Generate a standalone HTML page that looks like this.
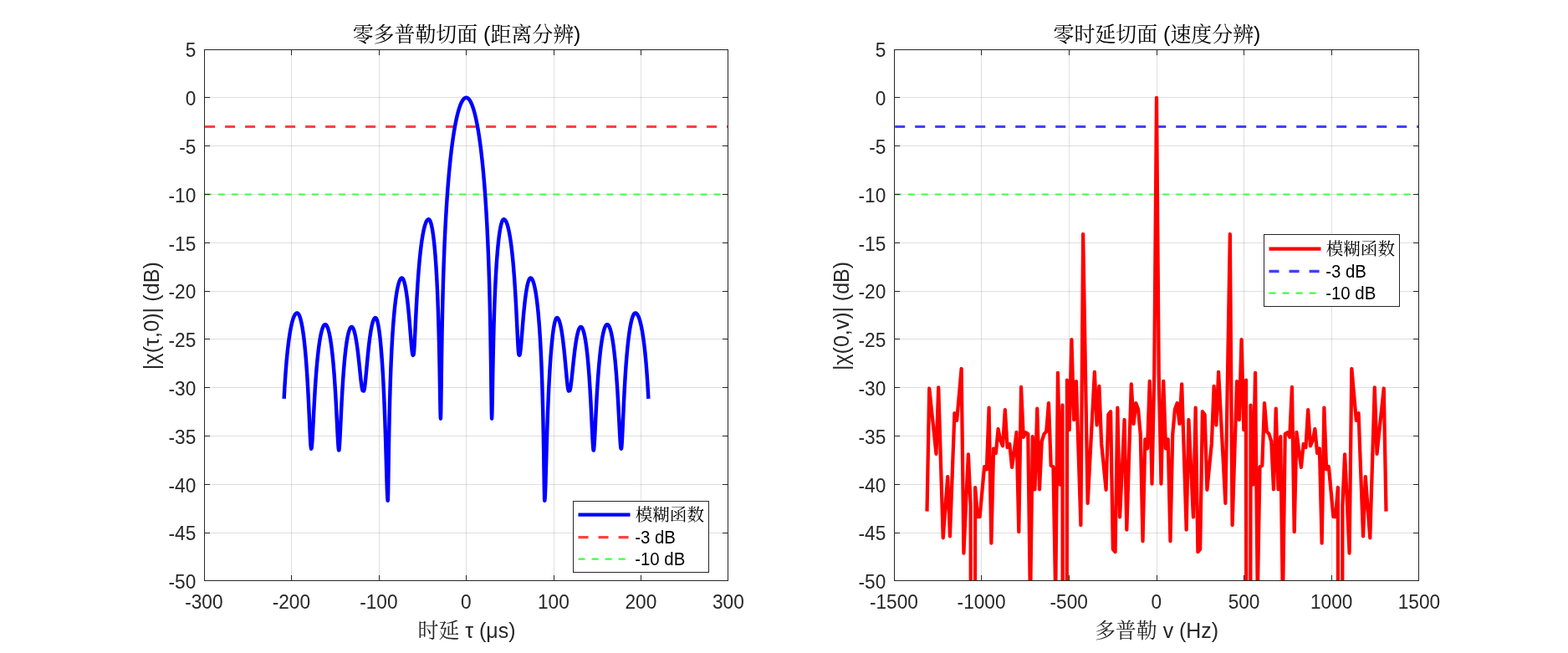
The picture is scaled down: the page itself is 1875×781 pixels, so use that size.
<!DOCTYPE html>
<html><head><meta charset="utf-8"><title>ambiguity function cuts</title>
<style>
html,body{margin:0;padding:0;background:#fff;}
body{width:1875px;height:781px;overflow:hidden;font-family:"Liberation Sans",sans-serif;}
svg{display:block;will-change:transform;font-family:"Liberation Sans",sans-serif;}
</style></head><body>
<svg width="1875" height="781" viewBox="0 0 1875 781">
<rect width="1875" height="781" fill="#fff"/>
<defs><clipPath id="cL"><rect x="244.0" y="59.0" width="627.0" height="636.0"/></clipPath><clipPath id="cR"><rect x="1069.0" y="59.0" width="628.0" height="636.0"/></clipPath></defs>
<path d="M348.5 59.5V694.5" stroke="#262626" stroke-opacity="0.15" stroke-width="1"/><path d="M453.5 59.5V694.5" stroke="#262626" stroke-opacity="0.15" stroke-width="1"/><path d="M557.5 59.5V694.5" stroke="#262626" stroke-opacity="0.15" stroke-width="1"/><path d="M662.5 59.5V694.5" stroke="#262626" stroke-opacity="0.15" stroke-width="1"/><path d="M766.5 59.5V694.5" stroke="#262626" stroke-opacity="0.15" stroke-width="1"/><path d="M244.5 116.5H870.5" stroke="#262626" stroke-opacity="0.15" stroke-width="1"/><path d="M244.5 174.5H870.5" stroke="#262626" stroke-opacity="0.15" stroke-width="1"/><path d="M244.5 232.5H870.5" stroke="#262626" stroke-opacity="0.15" stroke-width="1"/><path d="M244.5 290.5H870.5" stroke="#262626" stroke-opacity="0.15" stroke-width="1"/><path d="M244.5 348.5H870.5" stroke="#262626" stroke-opacity="0.15" stroke-width="1"/><path d="M244.5 405.5H870.5" stroke="#262626" stroke-opacity="0.15" stroke-width="1"/><path d="M244.5 463.5H870.5" stroke="#262626" stroke-opacity="0.15" stroke-width="1"/><path d="M244.5 521.5H870.5" stroke="#262626" stroke-opacity="0.15" stroke-width="1"/><path d="M244.5 579.5H870.5" stroke="#262626" stroke-opacity="0.15" stroke-width="1"/><path d="M244.5 637.5H870.5" stroke="#262626" stroke-opacity="0.15" stroke-width="1"/>
<g clip-path="url(#cL)" fill="none">
<path d="M245.1 151.5H871.0" stroke="#ff4040" stroke-width="3" stroke-dasharray="12 12"/>
<path d="M244.85 232.5H871.0" stroke="#40ff40" stroke-width="1.9" stroke-dasharray="7.9 8.12"/>
<path d="M339.65 476.78L339.90 471.99L340.15 467.44L340.40 463.11L340.65 459.00L340.90 455.08L341.15 451.33L341.40 447.76L341.65 444.34L341.90 441.06L342.15 437.93L342.40 434.92L342.65 432.03L342.90 429.26L343.15 426.60L343.40 424.04L343.65 421.58L343.90 419.22L344.15 416.95L344.40 414.76L344.65 412.65L344.90 410.63L345.15 408.68L345.40 406.80L345.65 404.99L345.90 403.26L346.15 401.58L346.40 399.98L346.65 398.43L346.90 396.94L347.15 395.52L347.40 394.14L347.65 392.83L347.90 391.57L348.15 390.36L348.40 389.20L348.65 388.09L348.90 387.03L349.15 386.02L349.40 385.05L349.65 384.14L349.90 383.26L350.15 382.43L350.40 381.65L350.65 380.91L350.90 380.21L351.15 379.55L351.40 378.94L351.65 378.36L351.90 377.83L352.15 377.33L352.40 376.88L352.65 376.46L352.90 376.08L353.15 375.75L353.40 375.45L353.65 375.18L353.90 374.96L354.15 374.77L354.40 374.63L354.65 374.51L354.90 374.44L355.15 374.40L355.40 374.41L355.65 374.46L355.90 374.57L356.15 374.73L356.40 374.94L356.65 375.21L356.90 375.52L357.15 375.89L357.40 376.32L357.65 376.80L357.90 377.33L358.15 377.92L358.40 378.56L358.65 379.26L358.90 380.02L359.15 380.83L359.40 381.70L359.65 382.63L359.90 383.62L360.15 384.68L360.40 385.79L360.65 386.97L360.90 388.22L361.15 389.53L361.40 390.91L361.65 392.36L361.90 393.88L362.15 395.48L362.40 397.15L362.65 398.90L362.90 400.72L363.15 402.64L363.40 404.63L363.65 406.72L363.90 408.90L364.15 411.17L364.40 413.54L364.65 416.02L364.90 418.60L365.15 421.29L365.40 424.10L365.65 427.02L365.90 430.08L366.15 433.26L366.40 436.59L366.65 440.05L366.90 443.67L367.15 447.44L367.40 451.38L367.65 455.49L367.90 459.77L368.15 464.23L368.40 468.88L368.65 473.71L368.90 478.73L369.15 483.93L369.40 489.29L369.65 494.79L369.90 500.39L370.15 506.04L370.40 511.65L370.65 517.12L370.90 522.29L371.15 526.99L371.40 530.99L371.65 534.09L371.90 536.07L372.15 536.78L372.40 536.53L372.65 535.43L372.90 533.40L373.15 530.54L373.40 527.00L373.65 522.92L373.90 518.46L374.15 513.75L374.40 508.89L374.65 503.96L374.90 499.04L375.15 494.17L375.40 489.39L375.65 484.73L375.90 480.19L376.15 475.80L376.40 471.55L376.65 467.45L376.90 463.50L377.15 459.70L377.40 456.04L377.65 452.52L377.90 449.14L378.15 445.89L378.40 442.76L378.65 439.77L378.90 436.89L379.15 434.12L379.40 431.47L379.65 428.92L379.90 426.48L380.15 424.14L380.40 421.89L380.65 419.73L380.90 417.67L381.15 415.69L381.40 413.80L381.65 411.99L381.90 410.26L382.15 408.60L382.40 407.02L382.65 405.52L382.90 404.09L383.15 402.72L383.40 401.43L383.65 400.20L383.90 399.04L384.15 397.94L384.40 396.90L384.65 395.93L384.90 395.01L385.15 394.16L385.40 393.37L385.65 392.63L385.90 391.95L386.15 391.33L386.40 390.76L386.65 390.25L386.90 389.80L387.15 389.40L387.40 389.05L387.65 388.76L387.90 388.52L388.15 388.34L388.40 388.20L388.65 388.13L388.90 388.10L389.15 388.13L389.40 388.21L389.65 388.35L389.90 388.54L390.15 388.79L390.40 389.09L390.65 389.45L390.90 389.87L391.15 390.34L391.40 390.86L391.65 391.45L391.90 392.09L392.15 392.80L392.40 393.56L392.65 394.38L392.90 395.26L393.15 396.21L393.40 397.21L393.65 398.29L393.90 399.42L394.15 400.63L394.40 401.90L394.65 403.24L394.90 404.66L395.15 406.14L395.40 407.70L395.65 409.34L395.90 411.06L396.15 412.86L396.40 414.74L396.65 416.70L396.90 418.76L397.15 420.91L397.40 423.15L397.65 425.49L397.90 427.94L398.15 430.49L398.40 433.14L398.65 435.92L398.90 438.81L399.15 441.82L399.40 444.96L399.65 448.23L399.90 451.64L400.15 455.19L400.40 458.89L400.65 462.74L400.90 466.75L401.15 470.91L401.40 475.23L401.65 479.71L401.90 484.35L402.15 489.13L402.40 494.04L402.65 499.06L402.90 504.15L403.15 509.27L403.40 514.34L403.65 519.29L403.90 524.00L404.15 528.32L404.40 532.11L404.65 535.18L404.90 537.39L405.15 538.59L405.40 538.36L405.65 536.48L405.90 533.61L406.15 529.91L406.40 525.57L406.65 520.77L406.90 515.68L407.15 510.43L407.40 505.12L407.65 499.83L407.90 494.61L408.15 489.51L408.40 484.55L408.65 479.75L408.90 475.11L409.15 470.65L409.40 466.36L409.65 462.25L409.90 458.30L410.15 454.51L410.40 450.89L410.65 447.41L410.90 444.09L411.15 440.91L411.40 437.86L411.65 434.95L411.90 432.16L412.15 429.50L412.40 426.95L412.65 424.52L412.90 422.19L413.15 419.97L413.40 417.86L413.65 415.84L413.90 413.92L414.15 412.09L414.40 410.35L414.65 408.69L414.90 407.13L415.15 405.64L415.40 404.24L415.65 402.91L415.90 401.66L416.15 400.49L416.40 399.39L416.65 398.37L416.90 397.41L417.15 396.53L417.40 395.71L417.65 394.96L417.90 394.28L418.15 393.66L418.40 393.11L418.65 392.62L418.90 392.20L419.15 391.84L419.40 391.54L419.65 391.30L419.90 391.13L420.15 391.02L420.40 390.96L420.65 390.98L420.90 391.06L421.15 391.20L421.40 391.41L421.65 391.69L421.90 392.04L422.15 392.45L422.40 392.93L422.65 393.48L422.90 394.09L423.15 394.77L423.40 395.51L423.65 396.33L423.90 397.21L424.15 398.16L424.40 399.18L424.65 400.27L424.90 401.43L425.15 402.66L425.40 403.95L425.65 405.32L425.90 406.76L426.15 408.27L426.40 409.85L426.65 411.51L426.90 413.23L427.15 415.02L427.40 416.88L427.65 418.81L427.90 420.81L428.15 422.87L428.40 425.00L428.65 427.18L428.90 429.42L429.15 431.71L429.40 434.05L429.65 436.42L429.90 438.83L430.15 441.25L430.40 443.68L430.65 446.11L430.90 448.51L431.15 450.88L431.40 453.18L431.65 455.41L431.90 457.52L432.15 459.51L432.40 461.33L432.65 462.96L432.90 464.37L433.15 465.54L433.40 466.45L433.65 467.07L433.90 467.39L434.15 467.40L434.40 467.10L434.65 467.54L434.90 467.60L435.15 467.28L435.40 466.60L435.65 465.57L435.90 464.21L436.15 462.57L436.40 460.67L436.65 458.55L436.90 456.24L437.15 453.79L437.40 451.22L437.65 448.57L437.90 445.86L438.15 443.12L438.40 440.36L438.65 437.61L438.90 434.88L439.15 432.18L439.40 429.52L439.65 426.92L439.90 424.37L440.15 421.88L440.40 419.46L440.65 417.11L440.90 414.83L441.15 412.62L441.40 410.49L441.65 408.44L441.90 406.46L442.15 404.56L442.40 402.73L442.65 400.98L442.90 399.30L443.15 397.70L443.40 396.18L443.65 394.72L443.90 393.34L444.15 392.03L444.40 390.80L444.65 389.63L444.90 388.53L445.15 387.50L445.40 386.55L445.65 385.65L445.90 384.83L446.15 384.07L446.40 383.38L446.65 382.76L446.90 382.20L447.15 381.71L447.40 381.28L447.65 380.91L447.90 380.61L448.15 380.38L448.40 380.21L448.65 380.10L448.90 380.06L449.15 380.09L449.40 380.20L449.65 380.42L449.90 380.73L450.15 381.14L450.40 381.65L450.65 382.26L450.90 382.96L451.15 383.76L451.40 384.66L451.65 385.67L451.90 386.77L452.15 387.97L452.40 389.27L452.65 390.67L452.90 392.18L453.15 393.80L453.40 395.52L453.65 397.35L453.90 399.30L454.15 401.35L454.40 403.53L454.65 405.82L454.90 408.24L455.15 410.78L455.40 413.45L455.65 416.26L455.90 419.20L456.15 422.29L456.40 425.53L456.65 428.93L456.90 432.48L457.15 436.21L457.40 440.12L457.65 444.21L457.90 448.50L458.15 453.00L458.40 457.72L458.65 462.66L458.90 467.86L459.15 473.31L459.40 479.03L459.65 485.05L459.90 491.38L460.15 498.02L460.40 505.01L460.65 512.34L460.90 520.02L461.15 528.05L461.40 536.41L461.65 545.03L461.90 553.83L462.15 562.66L462.40 571.27L462.65 579.36L462.90 586.51L463.15 592.33L463.40 596.47L463.65 598.86L463.90 597.23L464.15 585.70L464.40 569.81L464.65 553.18L464.90 537.43L465.15 523.04L465.40 510.03L465.65 498.27L465.90 487.62L466.15 477.93L466.40 469.05L466.65 460.89L466.90 453.35L467.15 446.36L467.40 439.85L467.65 433.77L467.90 428.08L468.15 422.73L468.40 417.69L468.65 412.94L468.90 408.45L469.15 404.20L469.40 400.17L469.65 396.35L469.90 392.71L470.15 389.25L470.40 385.96L470.65 382.82L470.90 379.83L471.15 376.98L471.40 374.26L471.65 371.66L471.90 369.19L472.15 366.82L472.40 364.56L472.65 362.40L472.90 360.34L473.15 358.38L473.40 356.51L473.65 354.72L473.90 353.02L474.15 351.40L474.40 349.86L474.65 348.40L474.90 347.01L475.15 345.70L475.40 344.45L475.65 343.28L475.90 342.17L476.15 341.12L476.40 340.15L476.65 339.23L476.90 338.38L477.15 337.59L477.40 336.85L477.65 336.18L477.90 335.57L478.15 335.01L478.40 334.51L478.65 334.06L478.90 333.67L479.15 333.34L479.40 333.06L479.65 332.83L479.90 332.66L480.15 332.55L480.40 332.48L480.65 332.47L480.90 332.54L481.15 332.69L481.40 332.90L481.65 333.19L481.90 333.56L482.15 334.00L482.40 334.51L482.65 335.09L482.90 335.75L483.15 336.49L483.40 337.30L483.65 338.19L483.90 339.15L484.15 340.19L484.40 341.32L484.65 342.52L484.90 343.80L485.15 345.16L485.40 346.61L485.65 348.14L485.90 349.76L486.15 351.46L486.40 353.25L486.65 355.12L486.90 357.09L487.15 359.14L487.40 361.29L487.65 363.53L487.90 365.86L488.15 368.27L488.40 370.78L488.65 373.38L488.90 376.07L489.15 378.84L489.40 381.69L489.65 384.61L489.90 387.59L490.15 390.64L490.40 393.72L490.65 396.83L490.90 399.95L491.15 403.05L491.40 406.10L491.65 409.07L491.90 411.93L492.15 414.62L492.40 417.10L492.65 419.32L492.90 421.23L493.15 422.78L493.40 423.93L493.65 424.64L493.90 424.89L494.15 424.66L494.40 424.35L494.65 423.70L494.90 421.95L495.15 419.23L495.40 415.68L495.65 411.50L495.90 406.84L496.15 401.88L496.40 396.73L496.65 391.50L496.90 386.27L497.15 381.10L497.40 376.02L497.65 371.07L497.90 366.26L498.15 361.60L498.40 357.10L498.65 352.77L498.90 348.59L499.15 344.57L499.40 340.70L499.65 336.98L499.90 333.40L500.15 329.96L500.40 326.65L500.65 323.47L500.90 320.42L501.15 317.48L501.40 314.65L501.65 311.94L501.90 309.32L502.15 306.81L502.40 304.39L502.65 302.07L502.90 299.84L503.15 297.69L503.40 295.62L503.65 293.64L503.90 291.74L504.15 289.91L504.40 288.15L504.65 286.46L504.90 284.85L505.15 283.30L505.40 281.82L505.65 280.40L505.90 279.04L506.15 277.74L506.40 276.51L506.65 275.33L506.90 274.20L507.15 273.14L507.40 272.13L507.65 271.17L507.90 270.26L508.15 269.41L508.40 268.61L508.65 267.86L508.90 267.16L509.15 266.50L509.40 265.90L509.65 265.35L509.90 264.84L510.15 264.38L510.40 263.96L510.65 263.60L510.90 263.27L511.15 263.00L511.40 262.77L511.65 262.59L511.90 262.45L512.15 262.35L512.40 262.31L512.65 262.30L512.90 262.37L513.15 262.51L513.40 262.72L513.65 263.01L513.90 263.38L514.15 263.82L514.40 264.33L514.65 264.93L514.90 265.60L515.15 266.35L515.40 267.18L515.65 268.09L515.90 269.09L516.15 270.17L516.40 271.34L516.65 272.60L516.90 273.95L517.15 275.39L517.40 276.93L517.65 278.56L517.90 280.30L518.15 282.15L518.40 284.10L518.65 286.17L518.90 288.35L519.15 290.66L519.40 293.10L519.65 295.68L519.90 298.39L520.15 301.26L520.40 304.29L520.65 307.48L520.90 310.85L521.15 314.41L521.40 318.18L521.65 322.16L521.90 326.38L522.15 330.85L522.40 335.60L522.65 340.65L522.90 346.04L523.15 351.78L523.40 357.93L523.65 364.54L523.90 371.64L524.15 379.31L524.40 387.62L524.65 396.66L524.90 406.53L525.15 417.32L525.40 429.14L525.65 442.05L525.90 455.97L526.15 470.50L526.40 484.52L526.65 495.68L526.90 500.70L527.15 494.77L527.40 478.91L527.65 459.59L527.90 440.58L528.15 423.12L528.40 407.41L528.65 393.29L528.90 380.54L529.15 368.97L529.40 358.38L529.65 348.64L529.90 339.63L530.15 331.24L530.40 323.40L530.65 316.04L530.90 309.11L531.15 302.56L531.40 296.35L531.65 290.45L531.90 284.82L532.15 279.46L532.40 274.32L532.65 269.40L532.90 264.68L533.15 260.14L533.40 255.77L533.65 251.56L533.90 247.49L534.15 243.57L534.40 239.78L534.65 236.11L534.90 232.55L535.15 229.11L535.40 225.77L535.65 222.53L535.90 219.38L536.15 216.32L536.40 213.35L536.65 210.46L536.90 207.65L537.15 204.91L537.40 202.25L537.65 199.65L537.90 197.13L538.15 194.66L538.40 192.26L538.65 189.92L538.90 187.63L539.15 185.41L539.40 183.23L539.65 181.11L539.90 179.04L540.15 177.02L540.40 175.05L540.65 173.12L540.90 171.24L541.15 169.41L541.40 167.62L541.65 165.87L541.90 164.16L542.15 162.49L542.40 160.86L542.65 159.27L542.90 157.72L543.15 156.20L543.40 154.72L543.65 153.28L543.90 151.87L544.15 150.50L544.40 149.16L544.65 147.85L544.90 146.58L545.15 145.33L545.40 144.12L545.65 142.94L545.90 141.79L546.15 140.67L546.40 139.58L546.65 138.52L546.90 137.49L547.15 136.48L547.40 135.51L547.65 134.56L547.90 133.64L548.15 132.74L548.40 131.88L548.65 131.04L548.90 130.22L549.15 129.43L549.40 128.67L549.65 127.93L549.90 127.22L550.15 126.54L550.40 125.87L550.65 125.24L550.90 124.62L551.15 124.04L551.40 123.47L551.65 122.93L551.90 122.41L552.15 121.92L552.40 121.45L552.65 121.00L552.90 120.58L553.15 120.18L553.40 119.80L553.65 119.45L553.90 119.12L554.15 118.81L554.40 118.52L554.65 118.26L554.90 118.01L555.15 117.79L555.40 117.60L555.65 117.42L555.90 117.27L556.15 117.14L556.40 117.03L556.65 116.95L556.90 116.88L557.15 116.84L557.40 116.82L557.50 116.82L557.60 116.82L557.85 116.84L558.10 116.88L558.35 116.95L558.60 117.03L558.85 117.14L559.10 117.27L559.35 117.42L559.60 117.60L559.85 117.79L560.10 118.01L560.35 118.26L560.60 118.52L560.85 118.81L561.10 119.12L561.35 119.45L561.60 119.80L561.85 120.18L562.10 120.58L562.35 121.00L562.60 121.45L562.85 121.92L563.10 122.41L563.35 122.93L563.60 123.47L563.85 124.04L564.10 124.62L564.35 125.24L564.60 125.87L564.85 126.54L565.10 127.22L565.35 127.93L565.60 128.67L565.85 129.43L566.10 130.22L566.35 131.04L566.60 131.88L566.85 132.74L567.10 133.64L567.35 134.56L567.60 135.51L567.85 136.48L568.10 137.49L568.35 138.52L568.60 139.58L568.85 140.67L569.10 141.79L569.35 142.94L569.60 144.12L569.85 145.33L570.10 146.58L570.35 147.85L570.60 149.16L570.85 150.50L571.10 151.87L571.35 153.28L571.60 154.72L571.85 156.20L572.10 157.72L572.35 159.27L572.60 160.86L572.85 162.49L573.10 164.16L573.35 165.87L573.60 167.62L573.85 169.41L574.10 171.24L574.35 173.12L574.60 175.05L574.85 177.02L575.10 179.04L575.35 181.11L575.60 183.23L575.85 185.41L576.10 187.63L576.35 189.92L576.60 192.26L576.85 194.66L577.10 197.13L577.35 199.65L577.60 202.25L577.85 204.91L578.10 207.65L578.35 210.46L578.60 213.35L578.85 216.32L579.10 219.38L579.35 222.53L579.60 225.77L579.85 229.11L580.10 232.55L580.35 236.11L580.60 239.78L580.85 243.57L581.10 247.49L581.35 251.56L581.60 255.77L581.85 260.14L582.10 264.68L582.35 269.40L582.60 274.32L582.85 279.46L583.10 284.82L583.35 290.45L583.60 296.35L583.85 302.56L584.10 309.11L584.35 316.04L584.60 323.40L584.85 331.24L585.10 339.63L585.35 348.64L585.60 358.38L585.85 368.97L586.10 380.54L586.35 393.29L586.60 407.41L586.85 423.12L587.10 440.58L587.35 459.59L587.60 478.91L587.85 494.77L588.10 500.70L588.35 495.68L588.60 484.52L588.85 470.50L589.10 455.97L589.35 442.05L589.60 429.14L589.85 417.32L590.10 406.53L590.35 396.66L590.60 387.62L590.85 379.31L591.10 371.64L591.35 364.54L591.60 357.93L591.85 351.78L592.10 346.04L592.35 340.65L592.60 335.60L592.85 330.85L593.10 326.38L593.35 322.16L593.60 318.18L593.85 314.41L594.10 310.85L594.35 307.48L594.60 304.29L594.85 301.26L595.10 298.39L595.35 295.68L595.60 293.10L595.85 290.66L596.10 288.35L596.35 286.17L596.60 284.10L596.85 282.15L597.10 280.30L597.35 278.56L597.60 276.93L597.85 275.39L598.10 273.95L598.35 272.60L598.60 271.34L598.85 270.17L599.10 269.09L599.35 268.09L599.60 267.18L599.85 266.35L600.10 265.60L600.35 264.93L600.60 264.33L600.85 263.82L601.10 263.38L601.35 263.01L601.60 262.72L601.85 262.51L602.10 262.37L602.35 262.30L602.60 262.31L602.85 262.35L603.10 262.45L603.35 262.59L603.60 262.77L603.85 263.00L604.10 263.27L604.35 263.60L604.60 263.96L604.85 264.38L605.10 264.84L605.35 265.35L605.60 265.90L605.85 266.50L606.10 267.16L606.35 267.86L606.60 268.61L606.85 269.41L607.10 270.26L607.35 271.17L607.60 272.13L607.85 273.14L608.10 274.20L608.35 275.33L608.60 276.51L608.85 277.74L609.10 279.04L609.35 280.40L609.60 281.82L609.85 283.30L610.10 284.85L610.35 286.46L610.60 288.15L610.85 289.91L611.10 291.74L611.35 293.64L611.60 295.62L611.85 297.69L612.10 299.84L612.35 302.07L612.60 304.39L612.85 306.81L613.10 309.32L613.35 311.94L613.60 314.65L613.85 317.48L614.10 320.42L614.35 323.47L614.60 326.65L614.85 329.96L615.10 333.40L615.35 336.98L615.60 340.70L615.85 344.57L616.10 348.59L616.35 352.77L616.60 357.10L616.85 361.60L617.10 366.26L617.35 371.07L617.60 376.02L617.85 381.10L618.10 386.27L618.35 391.50L618.60 396.73L618.85 401.88L619.10 406.84L619.35 411.50L619.60 415.68L619.85 419.23L620.10 421.95L620.35 423.70L620.60 424.35L620.85 424.66L621.10 424.89L621.35 424.64L621.60 423.93L621.85 422.78L622.10 421.23L622.35 419.32L622.60 417.10L622.85 414.62L623.10 411.93L623.35 409.07L623.60 406.10L623.85 403.05L624.10 399.95L624.35 396.83L624.60 393.72L624.85 390.64L625.10 387.59L625.35 384.61L625.60 381.69L625.85 378.84L626.10 376.07L626.35 373.38L626.60 370.78L626.85 368.27L627.10 365.86L627.35 363.53L627.60 361.29L627.85 359.14L628.10 357.09L628.35 355.12L628.60 353.25L628.85 351.46L629.10 349.76L629.35 348.14L629.60 346.61L629.85 345.16L630.10 343.80L630.35 342.52L630.60 341.32L630.85 340.19L631.10 339.15L631.35 338.19L631.60 337.30L631.85 336.49L632.10 335.75L632.35 335.09L632.60 334.51L632.85 334.00L633.10 333.56L633.35 333.19L633.60 332.90L633.85 332.69L634.10 332.54L634.35 332.47L634.60 332.48L634.85 332.55L635.10 332.66L635.35 332.83L635.60 333.06L635.85 333.34L636.10 333.67L636.35 334.06L636.60 334.51L636.85 335.01L637.10 335.57L637.35 336.18L637.60 336.85L637.85 337.59L638.10 338.38L638.35 339.23L638.60 340.15L638.85 341.12L639.10 342.17L639.35 343.28L639.60 344.45L639.85 345.70L640.10 347.01L640.35 348.40L640.60 349.86L640.85 351.40L641.10 353.02L641.35 354.72L641.60 356.51L641.85 358.38L642.10 360.34L642.35 362.40L642.60 364.56L642.85 366.82L643.10 369.19L643.35 371.66L643.60 374.26L643.85 376.98L644.10 379.83L644.35 382.82L644.60 385.96L644.85 389.25L645.10 392.71L645.35 396.35L645.60 400.17L645.85 404.20L646.10 408.45L646.35 412.94L646.60 417.69L646.85 422.73L647.10 428.08L647.35 433.77L647.60 439.85L647.85 446.36L648.10 453.35L648.35 460.89L648.60 469.05L648.85 477.93L649.10 487.62L649.35 498.27L649.60 510.03L649.85 523.04L650.10 537.43L650.35 553.18L650.60 569.81L650.85 585.70L651.10 597.23L651.35 598.86L651.60 596.47L651.85 592.33L652.10 586.51L652.35 579.36L652.60 571.27L652.85 562.66L653.10 553.83L653.35 545.03L653.60 536.41L653.85 528.05L654.10 520.02L654.35 512.34L654.60 505.01L654.85 498.02L655.10 491.38L655.35 485.05L655.60 479.03L655.85 473.31L656.10 467.86L656.35 462.66L656.60 457.72L656.85 453.00L657.10 448.50L657.35 444.21L657.60 440.12L657.85 436.21L658.10 432.48L658.35 428.93L658.60 425.53L658.85 422.29L659.10 419.20L659.35 416.26L659.60 413.45L659.85 410.78L660.10 408.24L660.35 405.82L660.60 403.53L660.85 401.35L661.10 399.30L661.35 397.35L661.60 395.52L661.85 393.80L662.10 392.18L662.35 390.67L662.60 389.27L662.85 387.97L663.10 386.77L663.35 385.67L663.60 384.66L663.85 383.76L664.10 382.96L664.35 382.26L664.60 381.65L664.85 381.14L665.10 380.73L665.35 380.42L665.60 380.20L665.85 380.09L666.10 380.06L666.35 380.10L666.60 380.21L666.85 380.38L667.10 380.61L667.35 380.91L667.60 381.28L667.85 381.71L668.10 382.20L668.35 382.76L668.60 383.38L668.85 384.07L669.10 384.83L669.35 385.65L669.60 386.55L669.85 387.50L670.10 388.53L670.35 389.63L670.60 390.80L670.85 392.03L671.10 393.34L671.35 394.72L671.60 396.18L671.85 397.70L672.10 399.30L672.35 400.98L672.60 402.73L672.85 404.56L673.10 406.46L673.35 408.44L673.60 410.49L673.85 412.62L674.10 414.83L674.35 417.11L674.60 419.46L674.85 421.88L675.10 424.37L675.35 426.92L675.60 429.52L675.85 432.18L676.10 434.88L676.35 437.61L676.60 440.36L676.85 443.12L677.10 445.86L677.35 448.57L677.60 451.22L677.85 453.79L678.10 456.24L678.35 458.55L678.60 460.67L678.85 462.57L679.10 464.21L679.35 465.57L679.60 466.60L679.85 467.28L680.10 467.60L680.35 467.54L680.60 467.10L680.85 467.40L681.10 467.39L681.35 467.07L681.60 466.45L681.85 465.54L682.10 464.37L682.35 462.96L682.60 461.33L682.85 459.51L683.10 457.52L683.35 455.41L683.60 453.18L683.85 450.88L684.10 448.51L684.35 446.11L684.60 443.68L684.85 441.25L685.10 438.83L685.35 436.42L685.60 434.05L685.85 431.71L686.10 429.42L686.35 427.18L686.60 425.00L686.85 422.87L687.10 420.81L687.35 418.81L687.60 416.88L687.85 415.02L688.10 413.23L688.35 411.51L688.60 409.85L688.85 408.27L689.10 406.76L689.35 405.32L689.60 403.95L689.85 402.66L690.10 401.43L690.35 400.27L690.60 399.18L690.85 398.16L691.10 397.21L691.35 396.33L691.60 395.51L691.85 394.77L692.10 394.09L692.35 393.48L692.60 392.93L692.85 392.45L693.10 392.04L693.35 391.69L693.60 391.41L693.85 391.20L694.10 391.06L694.35 390.98L694.60 390.96L694.85 391.02L695.10 391.13L695.35 391.30L695.60 391.54L695.85 391.84L696.10 392.20L696.35 392.62L696.60 393.11L696.85 393.66L697.10 394.28L697.35 394.96L697.60 395.71L697.85 396.53L698.10 397.41L698.35 398.37L698.60 399.39L698.85 400.49L699.10 401.66L699.35 402.91L699.60 404.24L699.85 405.64L700.10 407.13L700.35 408.69L700.60 410.35L700.85 412.09L701.10 413.92L701.35 415.84L701.60 417.86L701.85 419.97L702.10 422.19L702.35 424.52L702.60 426.95L702.85 429.50L703.10 432.16L703.35 434.95L703.60 437.86L703.85 440.91L704.10 444.09L704.35 447.41L704.60 450.89L704.85 454.51L705.10 458.30L705.35 462.25L705.60 466.36L705.85 470.65L706.10 475.11L706.35 479.75L706.60 484.55L706.85 489.51L707.10 494.61L707.35 499.83L707.60 505.12L707.85 510.43L708.10 515.68L708.35 520.77L708.60 525.57L708.85 529.91L709.10 533.61L709.35 536.48L709.60 538.36L709.85 538.59L710.10 537.39L710.35 535.18L710.60 532.11L710.85 528.32L711.10 524.00L711.35 519.29L711.60 514.34L711.85 509.27L712.10 504.15L712.35 499.06L712.60 494.04L712.85 489.13L713.10 484.35L713.35 479.71L713.60 475.23L713.85 470.91L714.10 466.75L714.35 462.74L714.60 458.89L714.85 455.19L715.10 451.64L715.35 448.23L715.60 444.96L715.85 441.82L716.10 438.81L716.35 435.92L716.60 433.14L716.85 430.49L717.10 427.94L717.35 425.49L717.60 423.15L717.85 420.91L718.10 418.76L718.35 416.70L718.60 414.74L718.85 412.86L719.10 411.06L719.35 409.34L719.60 407.70L719.85 406.14L720.10 404.66L720.35 403.24L720.60 401.90L720.85 400.63L721.10 399.42L721.35 398.29L721.60 397.21L721.85 396.21L722.10 395.26L722.35 394.38L722.60 393.56L722.85 392.80L723.10 392.09L723.35 391.45L723.60 390.86L723.85 390.34L724.10 389.87L724.35 389.45L724.60 389.09L724.85 388.79L725.10 388.54L725.35 388.35L725.60 388.21L725.85 388.13L726.10 388.10L726.35 388.13L726.60 388.20L726.85 388.34L727.10 388.52L727.35 388.76L727.60 389.05L727.85 389.40L728.10 389.80L728.35 390.25L728.60 390.76L728.85 391.33L729.10 391.95L729.35 392.63L729.60 393.37L729.85 394.16L730.10 395.01L730.35 395.93L730.60 396.90L730.85 397.94L731.10 399.04L731.35 400.20L731.60 401.43L731.85 402.72L732.10 404.09L732.35 405.52L732.60 407.02L732.85 408.60L733.10 410.26L733.35 411.99L733.60 413.80L733.85 415.69L734.10 417.67L734.35 419.73L734.60 421.89L734.85 424.14L735.10 426.48L735.35 428.92L735.60 431.47L735.85 434.12L736.10 436.89L736.35 439.77L736.60 442.76L736.85 445.89L737.10 449.14L737.35 452.52L737.60 456.04L737.85 459.70L738.10 463.50L738.35 467.45L738.60 471.55L738.85 475.80L739.10 480.19L739.35 484.73L739.60 489.39L739.85 494.17L740.10 499.04L740.35 503.96L740.60 508.89L740.85 513.75L741.10 518.46L741.35 522.92L741.60 527.00L741.85 530.54L742.10 533.40L742.35 535.43L742.60 536.53L742.85 536.78L743.10 536.07L743.35 534.09L743.60 530.99L743.85 526.99L744.10 522.29L744.35 517.12L744.60 511.65L744.85 506.04L745.10 500.39L745.35 494.79L745.60 489.29L745.85 483.93L746.10 478.73L746.35 473.71L746.60 468.88L746.85 464.23L747.10 459.77L747.35 455.49L747.60 451.38L747.85 447.44L748.10 443.67L748.35 440.05L748.60 436.59L748.85 433.26L749.10 430.08L749.35 427.02L749.60 424.10L749.85 421.29L750.10 418.60L750.35 416.02L750.60 413.54L750.85 411.17L751.10 408.90L751.35 406.72L751.60 404.63L751.85 402.64L752.10 400.72L752.35 398.90L752.60 397.15L752.85 395.48L753.10 393.88L753.35 392.36L753.60 390.91L753.85 389.53L754.10 388.22L754.35 386.97L754.60 385.79L754.85 384.68L755.10 383.62L755.35 382.63L755.60 381.70L755.85 380.83L756.10 380.02L756.35 379.26L756.60 378.56L756.85 377.92L757.10 377.33L757.35 376.80L757.60 376.32L757.85 375.89L758.10 375.52L758.35 375.21L758.60 374.94L758.85 374.73L759.10 374.57L759.35 374.46L759.60 374.41L759.85 374.40L760.10 374.44L760.35 374.51L760.60 374.63L760.85 374.77L761.10 374.96L761.35 375.18L761.60 375.45L761.85 375.75L762.10 376.08L762.35 376.46L762.60 376.88L762.85 377.33L763.10 377.83L763.35 378.36L763.60 378.94L763.85 379.55L764.10 380.21L764.35 380.91L764.60 381.65L764.85 382.43L765.10 383.26L765.35 384.14L765.60 385.05L765.85 386.02L766.10 387.03L766.35 388.09L766.60 389.20L766.85 390.36L767.10 391.57L767.35 392.83L767.60 394.14L767.85 395.52L768.10 396.94L768.35 398.43L768.60 399.98L768.85 401.58L769.10 403.26L769.35 404.99L769.60 406.80L769.85 408.68L770.10 410.63L770.35 412.65L770.60 414.76L770.85 416.95L771.10 419.22L771.35 421.58L771.60 424.04L771.85 426.60L772.10 429.26L772.35 432.03L772.60 434.92L772.85 437.93L773.10 441.06L773.35 444.34L773.60 447.76L773.85 451.33L774.10 455.08L774.35 459.00L774.60 463.11L774.85 467.44L775.10 471.99L775.35 476.78" stroke="#0000ff" stroke-width="4.45" stroke-linejoin="round"/>
</g>
<rect x="244.5" y="59.5" width="626.0" height="635.0" fill="none" stroke="#262626" stroke-width="1"/><path d="M348.5 694.5v-6.55M348.5 59.5v6.55M453.5 694.5v-6.55M453.5 59.5v6.55M557.5 694.5v-6.55M557.5 59.5v6.55M662.5 694.5v-6.55M662.5 59.5v6.55M766.5 694.5v-6.55M766.5 59.5v6.55M244.5 116.5h6.55M870.5 116.5h-6.55M244.5 174.5h6.55M870.5 174.5h-6.55M244.5 232.5h6.55M870.5 232.5h-6.55M244.5 290.5h6.55M870.5 290.5h-6.55M244.5 348.5h6.55M870.5 348.5h-6.55M244.5 405.5h6.55M870.5 405.5h-6.55M244.5 463.5h6.55M870.5 463.5h-6.55M244.5 521.5h6.55M870.5 521.5h-6.55M244.5 579.5h6.55M870.5 579.5h-6.55M244.5 637.5h6.55M870.5 637.5h-6.55" stroke="#262626" stroke-width="1" fill="none"/><text transform="translate(243.90,728.0) scale(1,1.045)" font-size="22.67" text-anchor="middle" fill="#262626">-300</text><text transform="translate(348.40,728.0) scale(1,1.045)" font-size="22.67" text-anchor="middle" fill="#262626">-200</text><text transform="translate(452.90,728.0) scale(1,1.045)" font-size="22.67" text-anchor="middle" fill="#262626">-100</text><text transform="translate(557.40,728.0) scale(1,1.045)" font-size="22.67" text-anchor="middle" fill="#262626">0</text><text transform="translate(661.90,728.0) scale(1,1.045)" font-size="22.67" text-anchor="middle" fill="#262626">100</text><text transform="translate(766.40,728.0) scale(1,1.045)" font-size="22.67" text-anchor="middle" fill="#262626">200</text><text transform="translate(870.90,728.0) scale(1,1.045)" font-size="22.67" text-anchor="middle" fill="#262626">300</text><text transform="translate(234.30,68.30) scale(1,1.045)" font-size="22.67" text-anchor="end" fill="#262626">5</text><text transform="translate(234.30,126.12) scale(1,1.045)" font-size="22.67" text-anchor="end" fill="#262626">0</text><text transform="translate(234.30,183.94) scale(1,1.045)" font-size="22.67" text-anchor="end" fill="#262626">-5</text><text transform="translate(234.30,241.75) scale(1,1.045)" font-size="22.67" text-anchor="end" fill="#262626">-10</text><text transform="translate(234.30,299.57) scale(1,1.045)" font-size="22.67" text-anchor="end" fill="#262626">-15</text><text transform="translate(234.30,357.39) scale(1,1.045)" font-size="22.67" text-anchor="end" fill="#262626">-20</text><text transform="translate(234.30,415.21) scale(1,1.045)" font-size="22.67" text-anchor="end" fill="#262626">-25</text><text transform="translate(234.30,473.03) scale(1,1.045)" font-size="22.67" text-anchor="end" fill="#262626">-30</text><text transform="translate(234.30,530.85) scale(1,1.045)" font-size="22.67" text-anchor="end" fill="#262626">-35</text><text transform="translate(234.30,588.66) scale(1,1.045)" font-size="22.67" text-anchor="end" fill="#262626">-40</text><text transform="translate(234.30,646.48) scale(1,1.045)" font-size="22.67" text-anchor="end" fill="#262626">-45</text><text transform="translate(234.30,704.30) scale(1,1.045)" font-size="22.67" text-anchor="end" fill="#262626">-50</text>
<rect x="685.5" y="599.5" width="162.0" height="85.0" fill="#fff" stroke="#262626" stroke-width="1"/><path d="M691.5 615.5H753.5" stroke="#0000ff" stroke-width="4.25"/><g transform="translate(759.20,622.90)" aria-label="模糊函数"><text x="0.45" y="0.2" font-size="20.6" fill="#000" style="font-family:'Liberation Sans','Noto Serif CJK SC','Noto Sans CJK SC',sans-serif">模糊函数</text></g><path d="M691.5 642.6H753.5" stroke="#ff4040" stroke-width="3.3" stroke-dasharray="12 12.05"/><g transform="translate(759.20,650.00)" aria-label="-3 dB"><text transform="translate(0.00,0) scale(1,1.045)" font-size="20.4" fill="#000" xml:space="preserve">-3 dB</text></g><path d="M691.5 668.6H753.5" stroke="#40ff40" stroke-width="2.33" stroke-dasharray="8.1 7.95"/><g transform="translate(759.20,676.00)" aria-label="-10 dB"><text transform="translate(0.00,0) scale(1,1.045)" font-size="20.4" fill="#000" xml:space="preserve">-10 dB</text></g>
<path d="M1173.5 59.5V694.5" stroke="#262626" stroke-opacity="0.15" stroke-width="1"/><path d="M1278.5 59.5V694.5" stroke="#262626" stroke-opacity="0.15" stroke-width="1"/><path d="M1383.5 59.5V694.5" stroke="#262626" stroke-opacity="0.15" stroke-width="1"/><path d="M1487.5 59.5V694.5" stroke="#262626" stroke-opacity="0.15" stroke-width="1"/><path d="M1592.5 59.5V694.5" stroke="#262626" stroke-opacity="0.15" stroke-width="1"/><path d="M1069.5 116.5H1696.5" stroke="#262626" stroke-opacity="0.15" stroke-width="1"/><path d="M1069.5 174.5H1696.5" stroke="#262626" stroke-opacity="0.15" stroke-width="1"/><path d="M1069.5 232.5H1696.5" stroke="#262626" stroke-opacity="0.15" stroke-width="1"/><path d="M1069.5 290.5H1696.5" stroke="#262626" stroke-opacity="0.15" stroke-width="1"/><path d="M1069.5 348.5H1696.5" stroke="#262626" stroke-opacity="0.15" stroke-width="1"/><path d="M1069.5 405.5H1696.5" stroke="#262626" stroke-opacity="0.15" stroke-width="1"/><path d="M1069.5 463.5H1696.5" stroke="#262626" stroke-opacity="0.15" stroke-width="1"/><path d="M1069.5 521.5H1696.5" stroke="#262626" stroke-opacity="0.15" stroke-width="1"/><path d="M1069.5 579.5H1696.5" stroke="#262626" stroke-opacity="0.15" stroke-width="1"/><path d="M1069.5 637.5H1696.5" stroke="#262626" stroke-opacity="0.15" stroke-width="1"/>
<g clip-path="url(#cR)" fill="none">
<path d="M1070.2 151.5H1697.0" stroke="#4040ff" stroke-width="3" stroke-dasharray="12 12"/>
<path d="M1069.85 232.5H1697.0" stroke="#40ff40" stroke-width="1.9" stroke-dasharray="7.9 8.12"/>
<path d="M1108.50 611.60L1111.24 464.50L1113.99 491.00L1116.74 516.00L1119.48 542.90L1122.22 463.40L1124.97 553.00L1127.71 643.30L1130.46 607.00L1133.20 570.20L1135.95 641.40L1138.69 568.00L1141.44 494.10L1144.18 502.90L1146.93 472.00L1149.67 441.00L1152.42 661.70L1155.16 600.00L1157.91 543.40L1160.65 605.00L1163.40 3500.00L1166.14 583.00L1168.89 618.10L1171.63 618.10L1174.38 588.00L1177.12 558.10L1179.87 561.30L1182.62 487.70L1185.36 649.70L1188.11 536.50L1190.85 542.10L1193.60 513.00L1196.34 527.00L1199.09 533.30L1201.83 490.10L1204.58 535.20L1207.32 531.00L1210.07 558.90L1212.81 539.00L1215.56 516.90L1218.30 636.10L1221.05 462.90L1223.79 522.90L1226.54 517.30L1229.28 519.10L1232.03 723.20L1234.77 522.10L1237.51 585.30L1240.26 488.70L1243.01 585.30L1245.75 528.00L1248.49 519.20L1251.24 516.00L1253.98 482.10L1256.73 556.80L1259.47 558.40L1262.22 713.20L1264.96 445.80L1267.71 579.70L1270.45 484.50L1273.20 3500.00L1275.94 454.60L1278.69 514.10L1281.43 406.10L1284.18 502.10L1286.92 456.10L1289.67 542.00L1292.41 628.10L1295.16 280.00L1297.90 441.00L1300.65 601.90L1303.39 549.00L1306.14 497.50L1308.88 444.80L1311.63 508.50L1314.38 461.80L1317.12 530.40L1319.87 558.00L1322.61 585.80L1325.36 495.70L1328.10 492.20L1330.85 656.80L1333.59 660.10L1336.34 487.70L1339.08 618.50L1341.83 560.00L1344.57 502.00L1347.32 633.70L1350.06 546.00L1352.81 459.30L1355.55 506.90L1358.30 482.10L1361.04 489.50L1363.79 520.00L1366.53 647.30L1369.28 525.30L1372.02 536.50L1374.77 455.90L1377.51 578.70L1380.26 447.00L1383.00 116.80L1385.74 447.00L1388.49 578.70L1391.23 455.90L1393.98 536.50L1396.72 525.30L1399.47 647.30L1402.21 520.00L1404.96 489.50L1407.70 482.10L1410.45 506.90L1413.19 459.30L1415.94 546.00L1418.68 633.70L1421.43 502.00L1424.17 560.00L1426.92 618.50L1429.66 487.70L1432.41 660.10L1435.15 656.80L1437.90 492.20L1440.64 495.70L1443.39 585.80L1446.13 558.00L1448.88 530.40L1451.62 461.80L1454.37 508.50L1457.12 444.80L1459.86 497.50L1462.61 549.00L1465.35 601.90L1468.10 441.00L1470.84 280.00L1473.59 628.10L1476.33 542.00L1479.08 456.10L1481.82 502.10L1484.57 406.10L1487.31 514.10L1490.06 454.60L1492.80 3500.00L1495.55 484.50L1498.29 579.70L1501.04 445.80L1503.78 713.20L1506.53 558.40L1509.27 556.80L1512.02 482.10L1514.76 516.00L1517.51 519.20L1520.25 528.00L1522.99 585.30L1525.74 488.70L1528.49 585.30L1531.23 522.10L1533.97 723.20L1536.72 519.10L1539.46 517.30L1542.21 522.90L1544.95 462.90L1547.70 636.10L1550.44 516.90L1553.19 539.00L1555.93 558.90L1558.68 531.00L1561.42 535.20L1564.17 490.10L1566.91 533.30L1569.66 527.00L1572.40 513.00L1575.15 542.10L1577.89 536.50L1580.64 649.70L1583.38 487.70L1586.13 561.30L1588.88 558.10L1591.62 588.00L1594.37 618.10L1597.11 618.10L1599.86 583.00L1602.60 3500.00L1605.35 605.00L1608.09 543.40L1610.84 600.00L1613.58 661.70L1616.33 441.00L1619.07 472.00L1621.82 502.90L1624.56 494.10L1627.31 568.00L1630.05 641.40L1632.80 570.20L1635.54 607.00L1638.29 643.30L1641.03 553.00L1643.78 463.40L1646.52 542.90L1649.26 516.00L1652.01 491.00L1654.76 464.50L1657.50 611.60" stroke="#ff0000" stroke-width="4.25" stroke-linejoin="round"/>
</g>
<rect x="1069.5" y="59.5" width="627.0" height="635.0" fill="none" stroke="#262626" stroke-width="1"/><path d="M1173.5 694.5v-6.55M1173.5 59.5v6.55M1278.5 694.5v-6.55M1278.5 59.5v6.55M1383.5 694.5v-6.55M1383.5 59.5v6.55M1487.5 694.5v-6.55M1487.5 59.5v6.55M1592.5 694.5v-6.55M1592.5 59.5v6.55M1069.5 116.5h6.55M1696.5 116.5h-6.55M1069.5 174.5h6.55M1696.5 174.5h-6.55M1069.5 232.5h6.55M1696.5 232.5h-6.55M1069.5 290.5h6.55M1696.5 290.5h-6.55M1069.5 348.5h6.55M1696.5 348.5h-6.55M1069.5 405.5h6.55M1696.5 405.5h-6.55M1069.5 463.5h6.55M1696.5 463.5h-6.55M1069.5 521.5h6.55M1696.5 521.5h-6.55M1069.5 579.5h6.55M1696.5 579.5h-6.55M1069.5 637.5h6.55M1696.5 637.5h-6.55" stroke="#262626" stroke-width="1" fill="none"/><text transform="translate(1068.90,728.0) scale(1,1.045)" font-size="22.67" text-anchor="middle" fill="#262626">-1500</text><text transform="translate(1173.57,728.0) scale(1,1.045)" font-size="22.67" text-anchor="middle" fill="#262626">-1000</text><text transform="translate(1278.23,728.0) scale(1,1.045)" font-size="22.67" text-anchor="middle" fill="#262626">-500</text><text transform="translate(1382.90,728.0) scale(1,1.045)" font-size="22.67" text-anchor="middle" fill="#262626">0</text><text transform="translate(1487.57,728.0) scale(1,1.045)" font-size="22.67" text-anchor="middle" fill="#262626">500</text><text transform="translate(1592.23,728.0) scale(1,1.045)" font-size="22.67" text-anchor="middle" fill="#262626">1000</text><text transform="translate(1696.90,728.0) scale(1,1.045)" font-size="22.67" text-anchor="middle" fill="#262626">1500</text><text transform="translate(1059.30,68.30) scale(1,1.045)" font-size="22.67" text-anchor="end" fill="#262626">5</text><text transform="translate(1059.30,126.12) scale(1,1.045)" font-size="22.67" text-anchor="end" fill="#262626">0</text><text transform="translate(1059.30,183.94) scale(1,1.045)" font-size="22.67" text-anchor="end" fill="#262626">-5</text><text transform="translate(1059.30,241.75) scale(1,1.045)" font-size="22.67" text-anchor="end" fill="#262626">-10</text><text transform="translate(1059.30,299.57) scale(1,1.045)" font-size="22.67" text-anchor="end" fill="#262626">-15</text><text transform="translate(1059.30,357.39) scale(1,1.045)" font-size="22.67" text-anchor="end" fill="#262626">-20</text><text transform="translate(1059.30,415.21) scale(1,1.045)" font-size="22.67" text-anchor="end" fill="#262626">-25</text><text transform="translate(1059.30,473.03) scale(1,1.045)" font-size="22.67" text-anchor="end" fill="#262626">-30</text><text transform="translate(1059.30,530.85) scale(1,1.045)" font-size="22.67" text-anchor="end" fill="#262626">-35</text><text transform="translate(1059.30,588.66) scale(1,1.045)" font-size="22.67" text-anchor="end" fill="#262626">-40</text><text transform="translate(1059.30,646.48) scale(1,1.045)" font-size="22.67" text-anchor="end" fill="#262626">-45</text><text transform="translate(1059.30,704.30) scale(1,1.045)" font-size="22.67" text-anchor="end" fill="#262626">-50</text>
<rect x="1511.5" y="280.5" width="162.0" height="86.0" fill="#fff" stroke="#262626" stroke-width="1"/><path d="M1517.5 297.5H1579.5" stroke="#ff0000" stroke-width="4.25"/><g transform="translate(1585.20,304.90)" aria-label="模糊函数"><text x="0.45" y="0.2" font-size="20.6" fill="#000" style="font-family:'Liberation Sans','Noto Serif CJK SC','Noto Sans CJK SC',sans-serif">模糊函数</text></g><path d="M1517.5 324.5H1579.5" stroke="#4040ff" stroke-width="3.3" stroke-dasharray="12 12.05"/><g transform="translate(1585.20,331.90)" aria-label="-3 dB"><text transform="translate(0.00,0) scale(1,1.045)" font-size="20.4" fill="#000" xml:space="preserve">-3 dB</text></g><path d="M1517.5 350.7H1579.5" stroke="#40ff40" stroke-width="2.33" stroke-dasharray="8.1 7.95"/><g transform="translate(1585.20,358.10)" aria-label="-10 dB"><text transform="translate(0.00,0) scale(1,1.045)" font-size="20.4" fill="#000" xml:space="preserve">-10 dB</text></g>
<g transform="translate(557.70,49.60)" aria-label="零多普勒切面 (距离分辨)"><text x="0.3" y="0" font-size="24.93" text-anchor="middle" fill="#000" style="font-family:'Liberation Sans','Noto Serif CJK SC','Noto Sans CJK SC',sans-serif">零多普勒切面 (距离分辨)</text></g>
<g transform="translate(1383.20,49.60)" aria-label="零时延切面 (速度分辨)"><text x="0.3" y="0" font-size="24.93" text-anchor="middle" fill="#000" style="font-family:'Liberation Sans','Noto Serif CJK SC','Noto Sans CJK SC',sans-serif">零时延切面 (速度分辨)</text></g>
<g transform="translate(558.00,762.65)" aria-label="时延 τ (μs)"><text x="0" y="0" font-size="24.93" text-anchor="middle" fill="#262626" style="font-family:'Liberation Sans','Noto Serif CJK SC','Noto Sans CJK SC',sans-serif">时延 τ (μs)</text></g>
<g transform="translate(1383.00,762.65)" aria-label="多普勒 v (Hz)"><text x="0" y="0" font-size="24.93" text-anchor="middle" fill="#262626" style="font-family:'Liberation Sans','Noto Serif CJK SC','Noto Sans CJK SC',sans-serif">多普勒 v (Hz)</text></g>
<g transform="translate(189.70,377.60) rotate(-90)" aria-label="|χ(τ,0)| (dB)"><text x="0" y="0" font-size="24.93" text-anchor="middle" fill="#262626" letter-spacing="0.15" style="font-family:'Liberation Sans',sans-serif">|χ(τ,0)| (dB)</text></g>
<g transform="translate(1014.70,378.00) rotate(-90)" aria-label="|χ(0,v)| (dB)"><text x="0" y="0" font-size="24.93" text-anchor="middle" fill="#262626" style="font-family:'Liberation Sans',sans-serif">|χ(0,v)| (dB)</text></g>
</svg>
</body></html>
